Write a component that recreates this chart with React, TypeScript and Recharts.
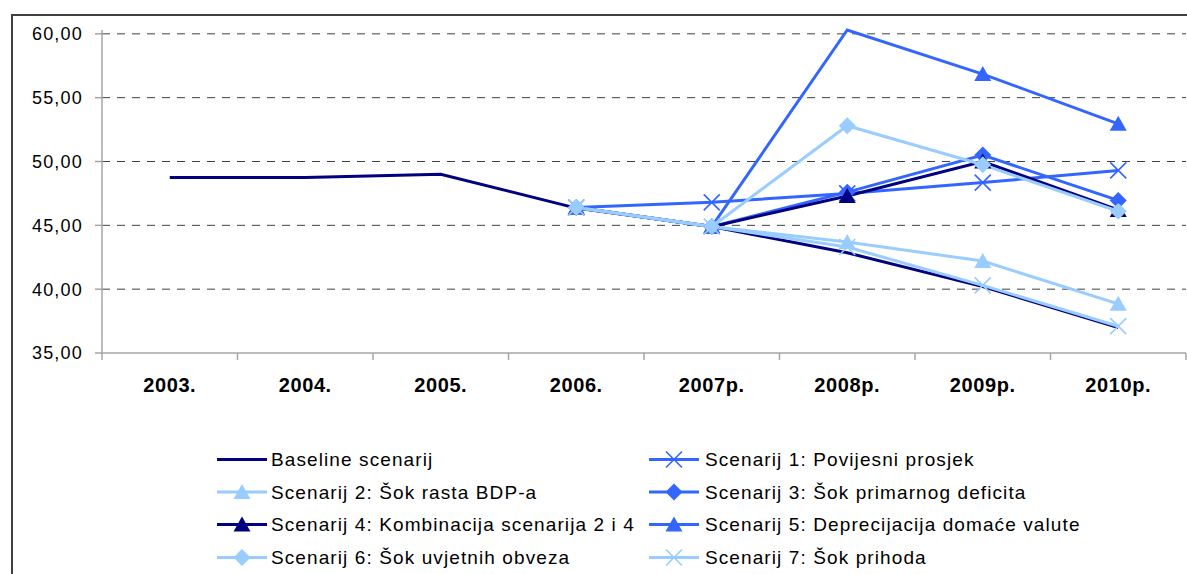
import React from 'react';
import { LineChart, Line, XAxis, YAxis, ReferenceLine } from 'recharts';

// categories and series values
const years = ['2003.', '2004.', '2005.', '2006.', '2007p.', '2008p.', '2009p.', '2010p.'];
const baseline = [48.75, 48.75, 49.0, 46.35, 44.9, 42.85, 40.2, 37.0];
const scen1 = [null, null, null, 46.4, 46.8, 47.5, 48.35, 49.3];
const scen2 = [null, null, null, 46.4, 44.9, 43.7, 42.2, 38.85];
const scen3 = [null, null, null, 46.4, 44.9, 47.6, 50.5, 46.95];
const scen4 = [null, null, null, 46.4, 44.9, 47.3, 50.0, 46.2];
const scen5 = [null, null, null, 46.4, 44.9, 60.3, 56.85, 52.95];
const scen6 = [null, null, null, 46.4, 44.9, 52.8, 49.75, 46.1];
const scen7 = [null, null, null, 46.4, 44.9, 43.3, 40.3, 37.1];

const yTicks = [35, 40, 45, 50, 55, 60];

const NAVY = '#000080';
const BLUE = '#3366FF';
const LIGHT = '#99CCFF';
const AXIS = '#A6A6A6';
const FONT = "'Liberation Sans', Arial, sans-serif";

type Shape = 'none' | 'x' | 'triangle' | 'diamond';

const series: { key: string; name: string; values: (number | null)[]; color: string; shape: Shape }[] = [
  { key: 'base', name: 'Baseline scenarij', values: baseline, color: NAVY, shape: 'none' },
  { key: 's1', name: 'Scenarij 1: Povijesni prosjek', values: scen1, color: BLUE, shape: 'x' },
  { key: 's2', name: 'Scenarij 2: Šok rasta BDP-a', values: scen2, color: LIGHT, shape: 'triangle' },
  { key: 's3', name: 'Scenarij 3: Šok primarnog deficita', values: scen3, color: BLUE, shape: 'diamond' },
  { key: 's4', name: 'Scenarij 4: Kombinacija scenarija 2 i 4', values: scen4, color: NAVY, shape: 'triangle' },
  { key: 's5', name: 'Scenarij 5: Deprecijacija domaće valute', values: scen5, color: BLUE, shape: 'triangle' },
  { key: 's6', name: 'Scenarij 6: Šok uvjetnih obveza', values: scen6, color: LIGHT, shape: 'diamond' },
  { key: 's7', name: 'Scenarij 7: Šok prihoda', values: scen7, color: LIGHT, shape: 'x' },
];

const data = years.map((year, i) => {
  const row: Record<string, any> = { year };
  series.forEach((s) => {
    row[s.key] = s.values[i];
  });
  return row;
});

const W = 1187;
const H = 574;
const PLOT_LEFT = 102;
const PLOT_RIGHT = 1186;
const STEP = (PLOT_RIGHT - PLOT_LEFT) / years.length;

const Marker = ({ shape, cx, cy, color }: { shape: Shape; cx: number; cy: number; color: string }) => {
  if (shape === 'triangle') {
    return <polygon points={`${cx},${cy - 8} ${cx + 8.5},${cy + 7} ${cx - 8.5},${cy + 7}`} fill={color} />;
  }
  if (shape === 'diamond') {
    return <polygon points={`${cx},${cy - 8.5} ${cx + 8.5},${cy} ${cx},${cy + 8.5} ${cx - 8.5},${cy}`} fill={color} />;
  }
  if (shape === 'x') {
    return (
      <path
        d={`M${cx - 8},${cy - 8}L${cx + 8},${cy + 8}M${cx + 8},${cy - 8}L${cx - 8},${cy + 8}`}
        stroke={color}
        strokeWidth={1.6}
        fill="none"
      />
    );
  }
  return null;
};

const XTick = (props: any) => {
  const { x, y, payload, index } = props;
  return (
    <g>
      <line x1={x - STEP / 2} x2={x - STEP / 2} y1={y} y2={y + 7} stroke={AXIS} strokeWidth={1.5} />
      {index === years.length - 1 && (
        <line x1={x + STEP / 2} x2={x + STEP / 2} y1={y} y2={y + 7} stroke={AXIS} strokeWidth={1.5} />
      )}
      <text
        x={x}
        y={y + 32}
        dy="0.35em"
        textAnchor="middle"
        fontFamily={FONT}
        fontSize={20}
        fontWeight="bold"
        letterSpacing={0.6}
        fill="#000"
      >
        {payload.value}
      </text>
    </g>
  );
};

const legendCols = [
  ['base', 's2', 's4', 's6'],
  ['s1', 's3', 's5', 's7'],
];
const legendRows = [459.5, 492, 524.5, 557.5];
const legendX = [
  { line: 217, text: 271 },
  { line: 649, text: 705 },
];

const Legend2 = () => (
  <svg width={W} height={H} style={{ position: 'absolute', left: 0, top: 0, pointerEvents: 'none' }}>
    {legendCols.map((col, c) =>
      col.map((key, r) => {
        const s = series.find((e) => e.key === key)!;
        const y = legendRows[r];
        const x0 = legendX[c].line;
        const x1 = x0 + 50;
        return (
          <g key={key}>
            <line x1={x0} x2={x1} y1={y} y2={y} stroke={s.color} strokeWidth={3} />
            <Marker shape={s.shape} cx={(x0 + x1) / 2} cy={y} color={s.color} />
            <text
              x={legendX[c].text}
              y={y}
              dy="0.35em"
              fontFamily={FONT}
              fontSize={19}
              letterSpacing={1.1}
              fill="#000"
            >
              {s.name}
            </text>
          </g>
        );
      })
    )}
  </svg>
);

const topTick = Math.max(...yTicks);
const bottomTick = Math.min(...yTicks);

const App = () => {
  return (
    <div style={{ position: 'relative', width: W, height: H, overflow: 'hidden', background: '#fff' }}>
      <style>{'body{margin:0;overflow:hidden}'}</style>
      <div
        style={{
          position: 'absolute',
          left: 11,
          top: 14,
          width: W + 100,
          height: H + 100,
          border: '2px solid #404040',
        }}
      />
      <div style={{ position: 'absolute', left: 0, top: 0 }}>
        <LineChart width={W} height={H} data={data} margin={{ top: 30, right: W - PLOT_RIGHT, bottom: 181, left: 12 }}>
          <XAxis
            dataKey="year"
            height={40}
            interval={0}
            padding={{ left: STEP / 2, right: STEP / 2 }}
            tickLine={false}
            tickSize={0}
            tickMargin={0}
            axisLine={{ stroke: AXIS, strokeWidth: 1.5 }}
            tick={<XTick />}
          />
          <YAxis
            type="number"
            width={90}
            domain={[35, 60.3]}
            ticks={yTicks}
            interval={0}
            tickSize={7}
            tickMargin={12}
            tickLine={{ stroke: AXIS, strokeWidth: 1.5 }}
            axisLine={{ stroke: AXIS, strokeWidth: 1.5 }}
            tickFormatter={(v: number) => v.toFixed(2).replace('.', ',')}
            tick={{ fontSize: 18, fill: '#000', fontFamily: FONT, letterSpacing: 1.2 }}
          />
          {yTicks
            .filter((v) => v > bottomTick)
            .map((v) => (
              <ReferenceLine key={v} y={v} stroke="#404040" strokeWidth={1} strokeDasharray="8 7" />
            ))}
          {series.map((s) => (
            <Line
              key={s.key}
              dataKey={s.key}
              name={s.name}
              type="linear"
              stroke={s.color}
              strokeWidth={3}
              isAnimationActive={false}
              activeDot={false}
              connectNulls={false}
              dot={(p: any) => {
                const { cx, cy, value, index } = p;
                if (s.shape === 'none' || cy == null || value == null || value > topTick) {
                  return <g key={`${s.key}-${index}`} />;
                }
                return (
                  <g key={`${s.key}-${index}`}>
                    <Marker shape={s.shape} cx={cx} cy={cy} color={s.color} />
                  </g>
                );
              }}
            />
          ))}
        </LineChart>
      </div>
      <Legend2 />
    </div>
  );
};

export default App;
